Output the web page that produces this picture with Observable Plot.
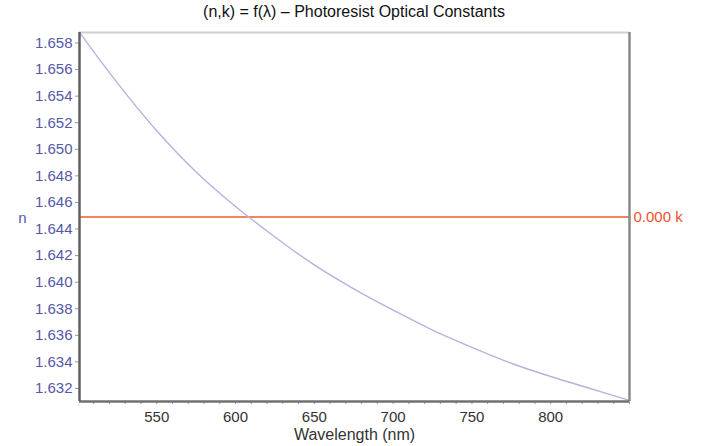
<!DOCTYPE html>
<html><head><meta charset="utf-8">
<script src="https://cdn.jsdelivr.net/npm/d3@7"></script>
<script src="https://cdn.jsdelivr.net/npm/@observablehq/plot@0.6"></script>
<style>
body{margin:0;background:#fff;font-family:"Liberation Sans",Arial,sans-serif;}
#title{width:701px;height:24px;line-height:24px;box-sizing:border-box;padding-left:79px;padding-right:72px;text-align:center;font-size:16px;color:#111;white-space:nowrap;}
</style></head><body>
<div id="title"></div>
<div id="chart"></div>
<script>
const title = "(n,k) = f(λ) – Photoresist Optical Constants";
const xLabel = "Wavelength (nm)";
const nLabel = "n";
const kLabel = "k";
const wavelengths = [501, 525, 550, 575, 600, 625, 650, 675, 700, 725, 750, 775, 800, 825, 850];
const nValues = [1.6588, 1.6550, 1.6514, 1.6483, 1.6457, 1.6434, 1.6413, 1.6395, 1.6379, 1.6364, 1.6351, 1.6339, 1.6329, 1.6320, 1.6311];
const kWavelengths = [501, 850];
const kValues = [0, 0];
const xDomain = [501, 850];
const nDomain = [1.63102, 1.65879];
const kDomain = [-1, 1];
const xTicks = [550, 600, 650, 700, 750, 800];
const yTicks = [1.632, 1.634, 1.636, 1.638, 1.640, 1.642, 1.644, 1.646, 1.648, 1.650, 1.652, 1.654, 1.656, 1.658];

const nColor = "#b3b3e0";
const nTextColor = "#5558a8";
const kColor = "#f2845e";
const kTextColor = "#f0502c";

document.getElementById("title").textContent = title;

const yFromK = k => nDomain[0] + (k - kDomain[0]) / (kDomain[1] - kDomain[0]) * (nDomain[1] - nDomain[0]);
const kFromY = y => kDomain[0] + (y - nDomain[0]) / (nDomain[1] - nDomain[0]) * (kDomain[1] - kDomain[0]);

const nData = wavelengths.map((w, i) => ({w, n: nValues[i]}));
const kData = kWavelengths.map((w, i) => ({w, k: kValues[i]}));

const chart = Plot.plot({
  width: 701,
  height: 422,
  marginLeft: 79,
  marginRight: 72,
  marginTop: 8,
  marginBottom: 45,
  style: {fontFamily: "'Liberation Sans', Arial, sans-serif", fontSize: "15px", background: "#fff"},
  x: {domain: xDomain},
  y: {domain: nDomain},
  marks: [
    Plot.axisX({ticks: d3.ticks(xDomain[0], xDomain[1], 35), tickSize: 3, text: null, stroke: "#999", label: null}),
    Plot.axisX({ticks: xTicks, tickSize: 0, tickPadding: 10, fill: "#333", fontSize: 15, label: null}),
    Plot.axisY({ticks: yTicks, tickSize: 4, tickPadding: 3, tickFormat: d3.format(".3f"), stroke: "#999", fill: nTextColor, fontSize: 15, label: null}),
    Plot.axisY([yFromK(kValues[0])], {anchor: "right", tickSize: 0, tickPadding: 4, fill: kTextColor, fontSize: 15, label: null,
      tickFormat: d => d3.format(".3f")(kFromY(d)) + " " + kLabel}),
    Plot.line(kData, {x: "w", y: d => yFromK(d.k), stroke: kColor, strokeWidth: 1.8}),
    Plot.line(nData, {x: "w", y: "n", stroke: nColor, strokeWidth: 1.4, curve: "catmull-rom"}),
    Plot.ruleY([nDomain[1]], {stroke: "#cfcfcf", strokeWidth: 2}),
    Plot.ruleX([xDomain[1]], {stroke: "#8a8a8a", strokeWidth: 2.5}),
    Plot.ruleY([nDomain[0]], {stroke: "#707070", strokeWidth: 2.5}),
    Plot.ruleX([xDomain[0]], {stroke: "#606060", strokeWidth: 2.5}),
    Plot.text([nLabel], {frameAnchor: "left", dx: -57, dy: 1, fill: nTextColor, fontSize: 15, textAnchor: "middle"}),
    Plot.text([xLabel], {frameAnchor: "bottom", dy: 38, fill: "#333", fontSize: 16, textAnchor: "middle"})
  ]
});
document.getElementById("chart").appendChild(chart);
</script>
</body></html>
